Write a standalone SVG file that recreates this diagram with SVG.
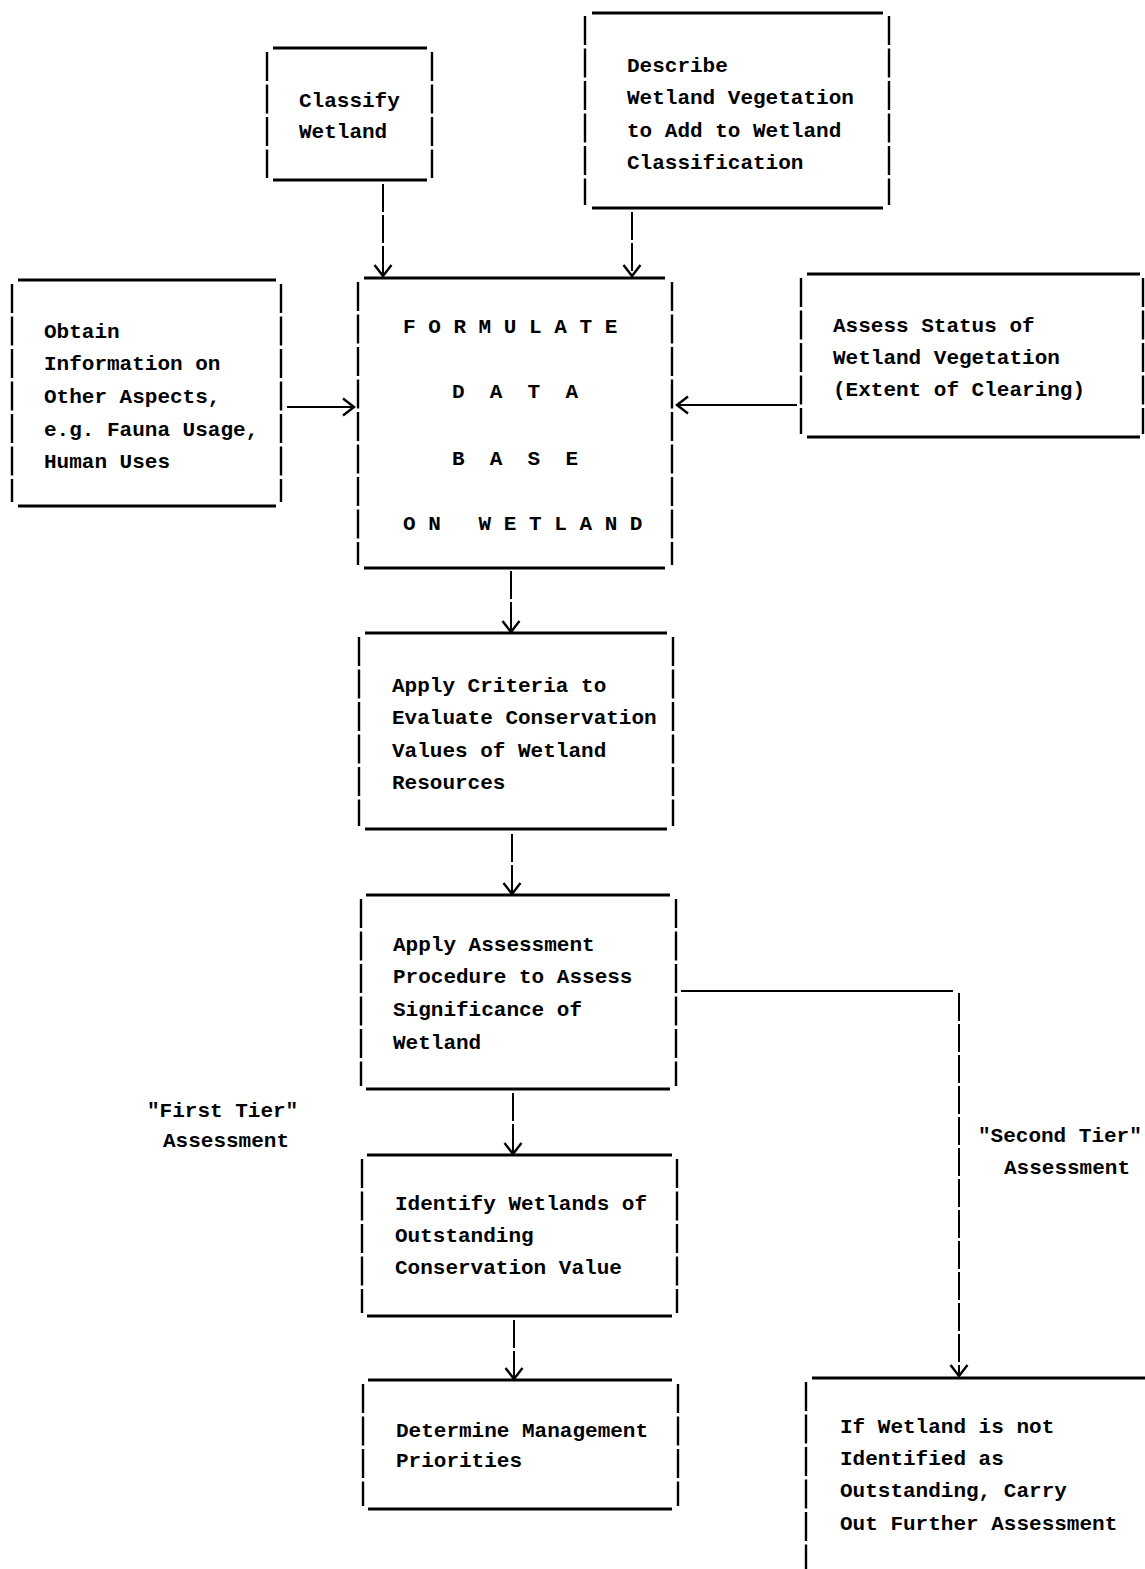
<svg xmlns="http://www.w3.org/2000/svg" width="1145" height="1569" viewBox="0 0 1145 1569">
<defs>
<style>
.h{stroke:#000;stroke-width:3;fill:none}
.v{stroke:#000;stroke-width:2.4;fill:none;stroke-dasharray:29 3.5}
.c{stroke:#000;stroke-width:2;fill:none}
.cv{stroke:#000;stroke-width:2;fill:none;stroke-dasharray:28 3}
.t{font-family:"Liberation Mono","DejaVu Sans Mono",monospace;font-size:21px;font-weight:bold;fill:#000;white-space:pre}
</style>
<marker id="ar" viewBox="0 0 20 20" refX="18" refY="10" markerWidth="20" markerHeight="20" markerUnits="userSpaceOnUse" orient="auto">
<polyline points="7,1.5 18,10 7,18.5" fill="none" stroke="#000" stroke-width="2.4"/>
</marker>
</defs>
<rect width="1145" height="1569" fill="#fff"/>

<g id="connectors">
<path class="cv" d="M383 184V276" marker-end="url(#ar)"/>
<path class="cv" d="M632 212V276" marker-end="url(#ar)"/>
<path class="c" d="M287 407H354" marker-end="url(#ar)"/>
<path class="c" d="M797 405H677" marker-end="url(#ar)"/>
<path class="cv" d="M511 571V632" marker-end="url(#ar)"/>
<path class="cv" d="M512 834V894" marker-end="url(#ar)"/>
<path class="cv" d="M513 1093V1154" marker-end="url(#ar)"/>
<path class="cv" d="M514 1320V1379" marker-end="url(#ar)"/>
<path class="c" d="M681 991H953"/>
<path class="cv" d="M959 993V1376" marker-end="url(#ar)"/>
</g>

<g id="n-classify">
<path class="h" d="M273 48H427M273 180H427"/>
<path class="v" d="M267 52V178M432 52V178"/>
<text class="t"><tspan x="299" y="107">Classify</tspan><tspan x="299" y="138">Wetland</tspan></text>
</g>

<g id="n-describe">
<path class="h" d="M592 13H883M592 208H883"/>
<path class="v" d="M585 16V205M889 16V205"/>
<text class="t"><tspan x="627" y="72">Describe</tspan><tspan x="627" y="104">Wetland Vegetation</tspan><tspan x="627" y="137">to Add to Wetland</tspan><tspan x="627" y="169">Classification</tspan></text>
</g>

<g id="n-obtain">
<path class="h" d="M18 280H276M18 506H276"/>
<path class="v" d="M12 284V502M281 284V502"/>
<text class="t"><tspan x="44" y="338">Obtain</tspan><tspan x="44" y="370">Information on</tspan><tspan x="44" y="403">Other Aspects,</tspan><tspan x="44" y="436">e.g. Fauna Usage,</tspan><tspan x="44" y="468">Human Uses</tspan></text>
</g>

<g id="n-formulate">
<path class="h" d="M364 278H665M364 568H665"/>
<path class="v" d="M358 282V565M672 282V565"/>
<text class="t"><tspan x="403" y="333">F O R M U L A T E</tspan><tspan x="452" y="398">D  A  T  A</tspan><tspan x="452" y="465">B  A  S  E</tspan><tspan x="403" y="530">O N   W E T L A N D</tspan></text>
</g>

<g id="n-assess-status">
<path class="h" d="M807 274H1140M807 437H1140"/>
<path class="v" d="M801 278V434M1143 278V434"/>
<text class="t"><tspan x="833" y="332">Assess Status of</tspan><tspan x="833" y="364">Wetland Vegetation</tspan><tspan x="833" y="396">(Extent of Clearing)</tspan></text>
</g>

<g id="n-criteria">
<path class="h" d="M365 633H667M365 829H667"/>
<path class="v" d="M359 637V826M673 637V826"/>
<text class="t"><tspan x="392" y="692">Apply Criteria to</tspan><tspan x="392" y="724">Evaluate Conservation</tspan><tspan x="392" y="757">Values of Wetland</tspan><tspan x="392" y="789">Resources</tspan></text>
</g>

<g id="n-procedure">
<path class="h" d="M366 895H670M366 1089H670"/>
<path class="v" d="M361 899V1086M676 899V1086"/>
<text class="t"><tspan x="393" y="951">Apply Assessment</tspan><tspan x="393" y="983">Procedure to Assess</tspan><tspan x="393" y="1016">Significance of</tspan><tspan x="393" y="1049">Wetland</tspan></text>
</g>

<g id="n-identify">
<path class="h" d="M367 1155H672M367 1316H672"/>
<path class="v" d="M362 1159V1313M677 1159V1313"/>
<text class="t"><tspan x="395" y="1210">Identify Wetlands of</tspan><tspan x="395" y="1242">Outstanding</tspan><tspan x="395" y="1274">Conservation Value</tspan></text>
</g>

<g id="n-determine">
<path class="h" d="M368 1380H672M368 1509H672"/>
<path class="v" d="M363 1384V1506M678 1384V1506"/>
<text class="t"><tspan x="396" y="1437">Determine Management</tspan><tspan x="396" y="1467">Priorities</tspan></text>
</g>

<g id="n-further">
<path class="h" d="M812 1378H1145"/>
<path class="v" d="M806 1382V1569"/>
<text class="t"><tspan x="840" y="1433">If Wetland is not</tspan><tspan x="840" y="1465">Identified as</tspan><tspan x="840" y="1497">Outstanding, Carry</tspan><tspan x="840" y="1530">Out Further Assessment</tspan></text>
</g>

<g id="labels">
<text class="t"><tspan x="147" y="1117">"First Tier"</tspan><tspan x="163" y="1147">Assessment</tspan></text>
<text class="t"><tspan x="978" y="1142">"Second Tier"</tspan><tspan x="1004" y="1174">Assessment</tspan></text>
</g>
</svg>
